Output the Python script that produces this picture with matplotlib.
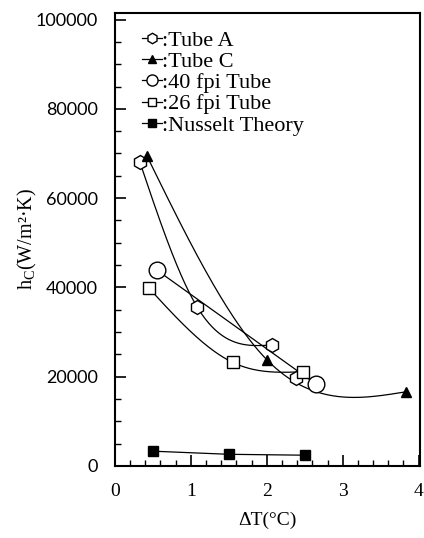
"""
hc vs dT condensation chart (Tube A / Tube C / 40 fpi / 26 fpi / Nusselt)
"""
import numpy as np
import matplotlib
matplotlib.use("Agg")
import matplotlib.pyplot as plt
from matplotlib.ticker import MultipleLocator

# ============================================================
# DATA
# ============================================================
tube_a_dt = [0.33, 1.08, 2.07, 2.38]
tube_a_hc = [68000, 35700, 27100, 19800]

tube_c_dt = [0.42, 2.00, 3.83]
tube_c_hc = [69500, 23800, 16600]

fpi40_dt = [0.55, 2.65]
fpi40_hc = [43900, 18300]

fpi26_dt = [0.45, 1.55, 2.48]
fpi26_hc = [39800, 23200, 21100]

nusselt_dt = [0.50, 1.50, 2.50]
nusselt_hc = [3300, 2600, 2400]

SERIF = "Liberation Serif"
# ============================================================


def natural_spline(x, y, n=200):
    # plain natural cubic spline, the smooth line the plotting program drew
    x = np.asarray(x, float)
    y = np.asarray(y, float)
    k = len(x)
    h = np.diff(x)
    A = np.zeros((k, k))
    r = np.zeros(k)
    A[0, 0] = A[-1, -1] = 1.0
    for i in range(1, k - 1):
        A[i, i - 1] = h[i - 1]
        A[i, i] = 2 * (h[i - 1] + h[i])
        A[i, i + 1] = h[i]
        r[i] = 6 * ((y[i + 1] - y[i]) / h[i] - (y[i] - y[i - 1]) / h[i - 1])
    M = np.linalg.solve(A, r)
    xs = np.linspace(x[0], x[-1], n)
    idx = np.clip(np.searchsorted(x, xs) - 1, 0, k - 2)
    x0, x1 = x[idx], x[idx + 1]
    hh = x1 - x0
    a, b = x1 - xs, xs - x0
    ys = (M[idx] * a**3 + M[idx + 1] * b**3) / (6 * hh) \
        + (y[idx] / hh - M[idx] * hh / 6) * a \
        + (y[idx + 1] / hh - M[idx + 1] * hh / 6) * b
    return xs, ys


fig = plt.figure(figsize=(4.24, 5.38), dpi=100)
ax = fig.add_axes([0.271, 0.134, 0.72, 0.842])

# curves
for xx, yy in [(tube_a_dt[:3], tube_a_hc[:3]), (tube_c_dt, tube_c_hc), (fpi26_dt, fpi26_hc)]:
    xs, ys = natural_spline(xx, yy)
    ax.plot(xs, ys, color="black", lw=0.9, zorder=2)
ax.plot(fpi40_dt, fpi40_hc, color="black", lw=0.9, zorder=2)
ax.plot(nusselt_dt, nusselt_hc, color="black", lw=0.9, zorder=2)

# markers
mk = dict(color="black", lw=0, zorder=3, markeredgewidth=1.0)
ax.plot(tube_a_dt, tube_a_hc, marker="h", ms=10, mfc="white", **mk)
ax.plot(tube_c_dt, tube_c_hc, marker="^", ms=7, mfc="black", **mk)
ax.plot(fpi40_dt, fpi40_hc, marker="o", ms=12, mfc="white", **mk)
ax.plot(fpi26_dt, fpi26_hc, marker="s", ms=8.5, mfc="white", **mk)
ax.plot(nusselt_dt, nusselt_hc, marker="s", ms=7, mfc="black", **mk)

# legend: "-o-:label" style entries
handles = [
    plt.Line2D([], [], color="black", lw=0.9, marker="h", ms=7.5, mfc="white"),
    plt.Line2D([], [], color="black", lw=0.9, marker="^", ms=5.5, mfc="black"),
    plt.Line2D([], [], color="black", lw=0.9, marker="o", ms=8, mfc="white"),
    plt.Line2D([], [], color="black", lw=0.9, marker="s", ms=6, mfc="white"),
    plt.Line2D([], [], color="black", lw=0.9, marker="s", ms=6, mfc="black"),
]
labels = [":Tube A", ":Tube C", ":40 fpi Tube", ":26 fpi Tube", ":Nusselt Theory"]
ax.legend(handles, labels, loc="upper left", frameon=False,
          handlelength=0.9, handletextpad=0.0, labelspacing=0.03,
          borderaxespad=0.0, borderpad=0.0, bbox_to_anchor=(0.089, 0.962),
          prop={"family": SERIF, "size": 16})

# axes
ax.set_xlim(0, 4.02)
ax.set_ylim(0, 101500)
ax.xaxis.set_major_locator(MultipleLocator(1))
ax.xaxis.set_minor_locator(MultipleLocator(0.2))
ax.yaxis.set_major_locator(MultipleLocator(20000))
ax.yaxis.set_minor_locator(MultipleLocator(5000))
ax.tick_params(which="both", direction="in", top=False, right=False)
ax.tick_params(which="major", length=8, width=1.2)
ax.tick_params(which="minor", length=4, width=1.0)
ax.tick_params(axis="x", pad=12)
ax.tick_params(axis="y", pad=12)
for s in ax.spines.values():
    s.set_linewidth(1.5)

for lab in ax.get_xticklabels():
    lab.set_fontfamily(SERIF)
    lab.set_fontsize(14)
for lab in ax.get_yticklabels():
    lab.set_fontfamily("Lato")
    lab.set_fontsize(13)

ax.set_xlabel("ΔT(°C)", family=SERIF, fontsize=14, labelpad=9)
ax.set_ylabel(r"h$_\mathregular{C}$(W/m²·K)", family=SERIF, fontsize=14.5, labelpad=-2)

fig.savefig("out.png", dpi=100)
